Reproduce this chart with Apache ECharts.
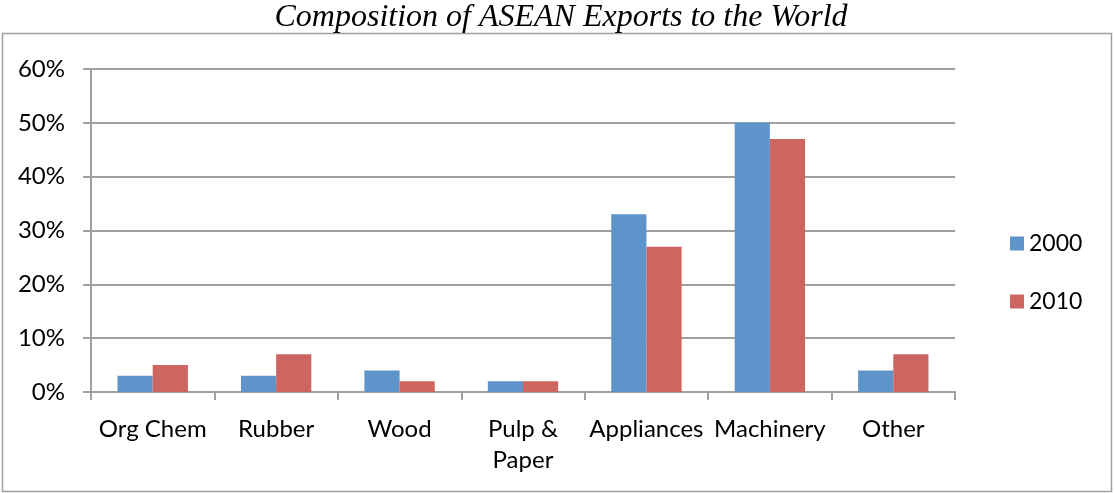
<!DOCTYPE html>
<html>
<head>
<meta charset="utf-8">
<script src="https://cdn.jsdelivr.net/npm/echarts@6/dist/echarts.min.js"></script>
<style>
  html, body { margin: 0; padding: 0; background: #fff; }
  #chart { width: 1115px; height: 493px; }
</style>
</head>
<body>
<div id="chart"></div>
<script>
// Export shares by product group, percent
const categories = ['Org Chem', 'Rubber', 'Wood', 'Pulp & Paper', 'Appliances', 'Machinery', 'Other'];
const values2000 = [3, 3, 4, 2, 33, 50, 4];
const values2010 = [5, 7, 2, 2, 27, 47, 7];
const seriesNames = ['2000', '2010'];
const yTicks = [0, 10, 20, 30, 40, 50, 60];

const labelFont = 'Lato, "Open Sans", sans-serif';
const gridGray = '#A0A0A0';

const chart = echarts.init(document.getElementById('chart'), null, { renderer: 'canvas' });

chart.setOption({
  animation: false,
  backgroundColor: '#ffffff',
  title: {
    text: 'Composition of ASEAN Exports to the World',
    left: 556,
    textAlign: 'center',
    top: -3,
    textStyle: {
      fontFamily: '"Liberation Serif", "DejaVu Serif", serif',
      fontStyle: 'italic',
      fontWeight: 'normal',
      fontSize: 32,
      color: '#000'
    }
  },
  graphic: [{
    type: 'rect',
    silent: true,
    z: -1,
    shape: { x: 2.5, y: 33.5, width: 1109, height: 458 },
    style: { fill: 'none', stroke: gridGray, lineWidth: 1.5 }
  }],
  legend: {
    orient: 'vertical',
    left: 1005,
    top: 227,
    itemWidth: 14,
    itemHeight: 14,
    itemGap: 35,
    icon: 'rect',
    data: seriesNames,
    textStyle: { fontFamily: labelFont, fontSize: 23, color: '#000' }
  },
  grid: { left: 91, right: 160, top: 69, bottom: 101, containLabel: false },
  xAxis: {
    type: 'category',
    data: categories,
    axisLine: { lineStyle: { color: gridGray, width: 2 } },
    axisTick: { show: true, inside: false, length: 8, lineStyle: { color: gridGray, width: 2 } },
    axisLabel: {
      interval: 0,
      margin: 22,
      fontFamily: labelFont,
      fontSize: 24,
      color: '#000',
      lineHeight: 31,
      formatter: v => v.replace(' & ', ' &\n')
    }
  },
  yAxis: {
    type: 'value',
    min: yTicks[0],
    max: yTicks[yTicks.length - 1],
    interval: 10,
    axisLine: { show: true, lineStyle: { color: gridGray, width: 2 } },
    axisTick: { show: true, length: 8, lineStyle: { color: gridGray, width: 2 } },
    splitLine: { show: true, lineStyle: { color: gridGray, width: 2 } },
    axisLabel: {
      margin: 26,
      fontFamily: labelFont,
      fontSize: 24,
      color: '#000',
      formatter: v => v + '%'
    }
  },
  series: [
    {
      name: seriesNames[0],
      type: 'bar',
      data: values2000,
      barGap: '0%',
      barCategoryGap: '43%',
      itemStyle: { color: '#5E94C9' }
    },
    {
      name: seriesNames[1],
      type: 'bar',
      data: values2010,
      itemStyle: { color: '#CD6660' }
    }
  ]
});
</script>
</body>
</html>
